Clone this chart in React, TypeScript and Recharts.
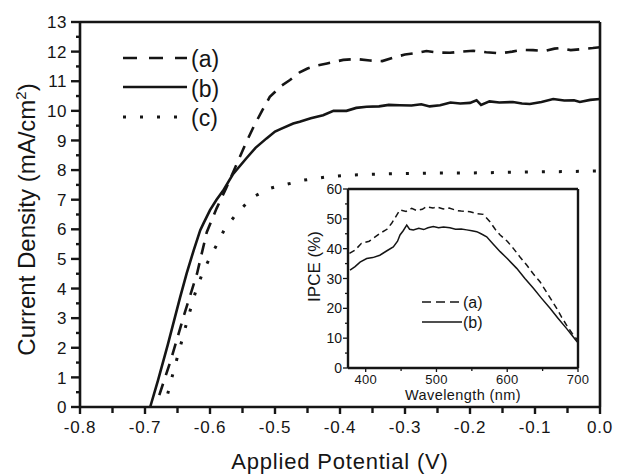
import { LineChart, Line, XAxis, YAxis, ReferenceLine, Legend, Label } from 'recharts';

// main J-V curves (potential in V, current density in mA/cm2)
const potentialA = [-0.678, -0.66, -0.64, -0.62, -0.605, -0.59, -0.575, -0.559, -0.545, -0.533, -0.52, -0.508, -0.49, -0.477, -0.462, -0.45, -0.441, -0.42, -0.395, -0.375, -0.354, -0.335, -0.318, -0.3, -0.283, -0.267, -0.25, -0.231, -0.213, -0.195, -0.175, -0.154, -0.135, -0.12, -0.103, -0.085, -0.07, -0.062, -0.045, -0.03, -0.011, 0];
const currentA = [0.4, 1.6, 3.1, 4.5, 5.9, 6.7, 7.4, 8.2, 8.9, 9.46, 10.0, 10.47, 10.85, 11.04, 11.3, 11.43, 11.5, 11.6, 11.72, 11.75, 11.7, 11.68, 11.8, 11.9, 11.95, 12.02, 11.97, 11.96, 12.0, 12.03, 11.98, 11.94, 12.0, 12.06, 12.05, 12.02, 12.1, 12.12, 12.05, 12.08, 12.12, 12.15];

const potentialB = [-0.692, -0.68, -0.665, -0.646, -0.636, -0.625, -0.615, -0.61, -0.6, -0.59, -0.58, -0.565, -0.544, -0.53, -0.513, -0.5, -0.49, -0.472, -0.462, -0.445, -0.426, -0.41, -0.39, -0.375, -0.359, -0.34, -0.325, -0.308, -0.29, -0.275, -0.262, -0.246, -0.23, -0.215, -0.2, -0.19, -0.183, -0.17, -0.155, -0.134, -0.12, -0.108, -0.09, -0.072, -0.055, -0.04, -0.031, -0.015, 0];
const currentB = [0, 0.9, 2.1, 3.7, 4.5, 5.3, 5.97, 6.2, 6.65, 7.0, 7.3, 7.85, 8.4, 8.75, 9.07, 9.3, 9.4, 9.57, 9.63, 9.75, 9.85, 10.0, 10.0, 10.1, 10.14, 10.15, 10.2, 10.19, 10.18, 10.22, 10.15, 10.19, 10.28, 10.25, 10.27, 10.36, 10.2, 10.32, 10.28, 10.3, 10.25, 10.23, 10.3, 10.4, 10.35, 10.36, 10.3, 10.37, 10.4];

const potentialC = [-0.665, -0.655, -0.645, -0.634, -0.623, -0.612, -0.6, -0.59, -0.577, -0.559, -0.545, -0.533, -0.52, -0.508, -0.495, -0.482, -0.456, -0.42, -0.385, -0.35, -0.308, -0.25, -0.205, -0.15, -0.103, -0.05, 0];
const currentC = [0.45, 1.3, 2.1, 3.0, 3.83, 4.5, 5.05, 5.46, 6.03, 6.53, 6.85, 7.1, 7.25, 7.38, 7.46, 7.52, 7.66, 7.77, 7.83, 7.86, 7.88, 7.9, 7.9, 7.92, 7.94, 7.95, 7.97];

// inset IPCE spectra
const wavelengthA = [377, 385, 394, 405, 420, 430, 436.7, 448.5, 457, 465, 472, 480, 486, 495, 500, 509.7, 518, 528.6, 535, 547.4, 556, 566, 575.6, 583, 590, 600, 608.6, 618, 627.5, 637, 646.3, 658, 669.9, 677, 684, 692, 699];
const ipceA = [38.4, 39.5, 41.8, 42.5, 45.1, 46.5, 48.5, 53, 52.5, 53.5, 52.8, 53.2, 54.1, 53.6, 54, 53.3, 53.6, 52.8, 52.6, 52.4, 51.8, 51.5, 49, 46.5, 44.6, 42.5, 40.1, 37.2, 34.5, 31.5, 28.9, 24.5, 20, 17, 14.3, 11.5, 9.5];

const wavelengthB = [377.8, 385, 392, 401.4, 410, 420, 430, 439, 445, 448.5, 453, 458, 462, 467.3, 475, 482, 488, 495.5, 503, 510, 519, 527, 535, 542.7, 550, 556.9, 563, 571, 580, 590, 600, 613.4, 625, 637, 648, 660.5, 672, 684, 692, 699];
const ipceB = [32.8, 34, 35.5, 36.7, 37, 37.8, 39.3, 40.6, 42.5, 44.6, 46, 47.9, 46.5, 46.3, 46.8, 46.4, 47, 47.4, 47, 47.3, 47, 46.5, 46.6, 46.3, 46, 45.7, 45, 44, 41.6, 39, 36.7, 33.4, 30, 26.7, 23.5, 20, 16.6, 13.2, 10.8, 8.7];

const potentialTicks = [-0.8, -0.7, -0.6, -0.5, -0.4, -0.3, -0.2, -0.1, 0.0];
const currentTicks = [0, 1, 2, 3, 4, 5, 6, 7, 8, 9, 10, 11, 12, 13];
const wavelengthTicks = [400, 500, 600, 700];
const ipceTicks = [0, 10, 20, 30, 40, 50, 60];

const INK = '#151515';
const FONT = '"Liberation Sans", Arial, Helvetica, sans-serif';

const zip = (xs: number[], ys: number[]) => xs.map((x, i) => ({ x, y: ys[i] }));
const withMinors = (majors: number[]) => {
  const out: number[] = [];
  majors.forEach((m, i) => {
    out.push(m);
    if (i < majors.length - 1) out.push(+(m + (majors[i + 1] - m) / 2).toFixed(4));
  });
  return out;
};

const seriesA = zip(potentialA, currentA);
const seriesB = zip(potentialB, currentB);
const seriesC = zip(potentialC, currentC);
const insetA = zip(wavelengthA, ipceA);
const insetB = zip(wavelengthB, ipceB);

type TickOpts = {
  side: 'left' | 'right' | 'bottom';
  majors: number[];
  major: number;
  minor: number;
  size: number;
  gap: number;
  width: number;
  spacing?: number;
  fmt: (v: number) => string;
};

function makeTick(o: TickOpts) {
  return (props: any) => {
    const { x, y, payload } = props;
    const v = payload.value;
    const isMajor = o.majors.some((m) => Math.abs(m - v) < 1e-6);
    const len = isMajor ? o.major : o.minor;
    const textStyle = { fontFamily: FONT, fontSize: o.size, fill: INK, letterSpacing: o.spacing ?? 0 };
    if (o.side === 'left') {
      return (
        <g>
          <line x1={x - len} x2={x} y1={y} y2={y} stroke={INK} strokeWidth={o.width} />
          {isMajor && (
            <text x={x - o.major - o.gap} y={y + o.size * 0.36} textAnchor="end" style={textStyle}>
              {o.fmt(v)}
            </text>
          )}
        </g>
      );
    }
    if (o.side === 'right') {
      return (
        <g>
          <line x1={x} x2={x + len} y1={y} y2={y} stroke={INK} strokeWidth={o.width} />
          {isMajor && (
            <text x={x + o.major + o.gap} y={y + o.size * 0.36} textAnchor="start" style={textStyle}>
              {o.fmt(v)}
            </text>
          )}
        </g>
      );
    }
    return (
      <g>
        <line x1={x} x2={x} y1={y} y2={y + len} stroke={INK} strokeWidth={o.width} />
        {isMajor && (
          <text x={x} y={y + o.major + o.gap + o.size * 0.72} textAnchor="middle" style={textStyle}>
            {o.fmt(v)}
          </text>
        )}
      </g>
    );
  };
}

const mainLegend = () => (
  <svg width={120} height={95}>
    <line x1={8} x2={72} y1={18} y2={18} stroke={INK} strokeWidth={2.6} strokeDasharray="14 12" />
    <line x1={8} x2={72} y1={47} y2={47} stroke={INK} strokeWidth={2.6} />
    <line x1={8} x2={66} y1={77} y2={77} stroke={INK} strokeWidth={3} strokeDasharray="3 14" />
    {['(a)', '(b)', '(c)'].map((t, i) => (
      <text key={t} x={76} y={27 + i * 29.5} style={{ fontFamily: FONT, fontSize: 23, fill: INK }}>
        {t}
      </text>
    ))}
  </svg>
);

const insetLegend = () => (
  <svg width={80} height={40}>
    <line x1={2} x2={42} y1={8} y2={8} stroke={INK} strokeWidth={1.5} strokeDasharray="9 5" />
    <line x1={2} x2={42} y1={28} y2={28} stroke={INK} strokeWidth={1.5} />
    {['(a)', '(b)'].map((t, i) => (
      <text key={t} x={43} y={13.5 + i * 20} style={{ fontFamily: FONT, fontSize: 16, fill: INK }}>
        {t}
      </text>
    ))}
  </svg>
);

const CurrentTitle = (props: any) => {
  const { viewBox } = props;
  const x = viewBox.x + 35;
  const y = viewBox.y + viewBox.height / 2 + 5;
  return (
    <text transform={`rotate(-90 ${x} ${y})`} x={x} y={y} textAnchor="middle" style={{ fontFamily: FONT, fontSize: 24, fill: INK }}>
      Current Density (mA/cm<tspan dy={-9} fontSize={15}>2</tspan>
      <tspan dy={9}>)</tspan>
    </text>
  );
};

const PotentialTitle = (props: any) => {
  const { viewBox } = props;
  return (
    <text x={viewBox.x + viewBox.width / 2} y={viewBox.y + 62} textAnchor="middle" style={{ fontFamily: FONT, fontSize: 22, letterSpacing: 0.8, fill: INK }}>
      Applied Potential (V)
    </text>
  );
};

const IpceTitle = (props: any) => {
  const { viewBox } = props;
  const x = viewBox.x + 20;
  const y = viewBox.y + viewBox.height / 2 - 12;
  return (
    <text transform={`rotate(-90 ${x} ${y})`} x={x} y={y} textAnchor="middle" style={{ fontFamily: FONT, fontSize: 17, fill: INK }}>
      IPCE (%)
    </text>
  );
};

const WavelengthTitle = (props: any) => {
  const { viewBox } = props;
  return (
    <text x={viewBox.x + viewBox.width / 2} y={viewBox.y + 32} textAnchor="middle" style={{ fontFamily: FONT, fontSize: 14.5, letterSpacing: 0.4, fill: INK }}>
      Wavelength (nm)
    </text>
  );
};

export default function App() {
  const fmtV = (v: number) => v.toFixed(1);
  const fmtN = (v: number) => String(v);

  return (
    <div style={{ position: 'relative', width: 637, height: 476, background: '#fff' }}>
      <style>{'body { margin: 0; }'}</style>
      <LineChart width={637} height={476} margin={{ top: 22, right: 0, bottom: 0, left: 0 }}>
        <XAxis
          dataKey="x"
          type="number"
          domain={[-0.8, 0]}
          ticks={withMinors(potentialTicks)}
          interval={0}
          height={69}
          tickSize={0}
          tickMargin={0}
          axisLine={{ stroke: INK, strokeWidth: 2.6 }}
          tick={makeTick({ side: 'bottom', majors: potentialTicks, major: 7, minor: 6, size: 17, gap: 7, width: 2.4, spacing: 0.8, fmt: fmtV })}
        >
          <Label content={PotentialTitle} />
        </XAxis>
        <YAxis
          yAxisId="left"
          type="number"
          domain={[0, 13]}
          ticks={withMinors(currentTicks)}
          interval={0}
          width={80}
          tickSize={0}
          tickMargin={0}
          axisLine={{ stroke: INK, strokeWidth: 2.6 }}
          tick={makeTick({ side: 'left', majors: currentTicks, major: 9, minor: 4, size: 17, gap: 4, width: 2.4, spacing: 0.5, fmt: fmtN })}
        >
          <Label content={CurrentTitle} />
        </YAxis>
        <YAxis
          yAxisId="right"
          orientation="right"
          type="number"
          domain={[0, 13]}
          ticks={withMinors(currentTicks)}
          interval={0}
          width={37}
          tickSize={0}
          tickMargin={0}
          axisLine={{ stroke: INK, strokeWidth: 2.6 }}
          tick={makeTick({ side: 'right', majors: currentTicks, major: 9, minor: 4, size: 17, gap: 4, width: 2.4, spacing: 0.5, fmt: fmtN })}
        />
        <ReferenceLine yAxisId="left" y={13} stroke={INK} strokeWidth={2.6} />
        <Legend layout="horizontal" verticalAlign="middle" content={mainLegend} wrapperStyle={{ left: 115, top: 40, width: 120, height: 95 }} />
        <Line yAxisId="left" data={seriesA} dataKey="y" stroke={INK} strokeWidth={2.6} strokeDasharray="12 9" dot={false} isAnimationActive={false} />
        <Line yAxisId="left" data={seriesB} dataKey="y" stroke={INK} strokeWidth={2.6} dot={false} isAnimationActive={false} />
        <Line yAxisId="left" data={seriesC} dataKey="y" stroke={INK} strokeWidth={3} strokeDasharray="3 14" dot={false} isAnimationActive={false} />
      </LineChart>

      <div style={{ position: 'absolute', left: 300, top: 180 }}>
        <LineChart width={290} height={226} margin={{ top: 9, right: 12, bottom: 0, left: 0 }}>
          <XAxis
            dataKey="x"
            type="number"
            domain={[375, 700]}
            ticks={withMinors(wavelengthTicks)}
            interval={0}
            height={38}
            tickSize={0}
            tickMargin={0}
            axisLine={{ stroke: INK, strokeWidth: 2.4 }}
            tick={makeTick({ side: 'bottom', majors: wavelengthTicks, major: 4, minor: 3, size: 13, gap: 3, width: 1.3, spacing: 0.3, fmt: fmtN })}
          >
            <Label content={WavelengthTitle} />
          </XAxis>
          <YAxis
            type="number"
            domain={[0, 60]}
            ticks={withMinors(ipceTicks)}
            interval={0}
            width={48}
            tickSize={0}
            tickMargin={0}
            axisLine={{ stroke: INK, strokeWidth: 2.4 }}
            tick={makeTick({ side: 'left', majors: ipceTicks, major: 5, minor: 3, size: 14, gap: 1, width: 1.3, fmt: fmtN })}
          >
            <Label content={IpceTitle} />
          </YAxis>
          <ReferenceLine y={60} stroke={INK} strokeWidth={2.4} />
          <ReferenceLine x={700} stroke={INK} strokeWidth={2.4} />
          <Legend layout="horizontal" verticalAlign="middle" content={insetLegend} wrapperStyle={{ left: 120, top: 114, width: 80, height: 40 }} />
          <Line data={insetA} dataKey="y" stroke={INK} strokeWidth={1.5} strokeDasharray="6 4" dot={false} isAnimationActive={false} />
          <Line data={insetB} dataKey="y" stroke={INK} strokeWidth={1.5} dot={false} isAnimationActive={false} />
        </LineChart>
      </div>
    </div>
  );
}
